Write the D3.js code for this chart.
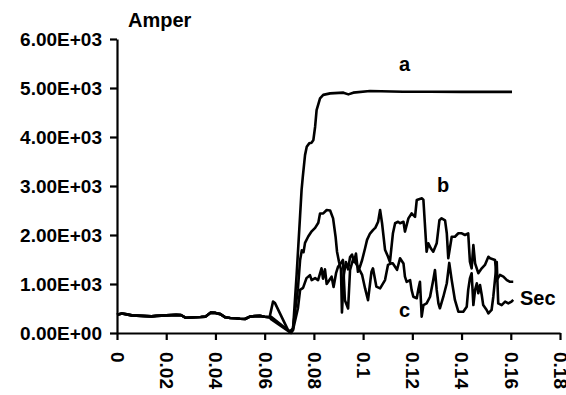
<!DOCTYPE html>
<html>
<head>
<meta charset="utf-8">
<script src="https://cdn.jsdelivr.net/npm/d3@7"></script>
<style>
  html, body { margin: 0; padding: 0; background: #fff; }
  #container { width: 566px; height: 395px; }
  text { font-family: "Liberation Sans", Arial, sans-serif; font-weight: bold; fill: #000; }
</style>
</head>
<body>
<div id="container"></div>
<script>
'use strict';
(function() {
    // tick values
    var yTicks = [0, 1000, 2000, 3000, 4000, 5000, 6000];
    var xTicks = [0, 0.02, 0.04, 0.06, 0.08, 0.1, 0.12, 0.14, 0.16, 0.18];

    // shared start of the three curves (sec, amper)
    var baseTime = [0, 0.002, 0.004, 0.006, 0.008, 0.010, 0.012, 0.014, 0.016, 0.018, 0.020, 0.022,
        0.024, 0.026, 0.028, 0.030, 0.032, 0.034, 0.036, 0.038, 0.040, 0.042, 0.044, 0.046,
        0.048, 0.050, 0.052, 0.054, 0.056, 0.058, 0.060, 0.062];
    var baseAmp = [370, 400, 380, 360, 355, 350, 345, 340, 350, 355, 360, 365,
        370, 365, 310, 315, 320, 325, 335, 415, 410, 385, 320, 305,
        300, 290, 285, 335, 345, 350, 330, 320];

    // curve a
    var aTime = [0.0626, 0.0699, 0.0715, 0.073, 0.0744, 0.075, 0.0755, 0.0764, 0.0771, 0.0781,
        0.0791, 0.0798, 0.0805, 0.0811, 0.0825, 0.0838, 0.0866, 0.092, 0.094, 0.096,
        0.1028, 0.1162, 0.127, 0.14, 0.1605];
    var aAmp = [330, 40, 60, 1200, 2400, 2920, 3190, 3630, 3800, 3870,
        3885, 3940, 4210, 4550, 4790, 4860, 4890, 4905, 4870, 4905,
        4940, 4925, 4925, 4920, 4920];

    // curve b
    var bTime = [0.0634, 0.0642, 0.0695, 0.0703, 0.0715, 0.0735, 0.0744, 0.0751, 0.0758, 0.0764,
        0.0777, 0.0791, 0.0805, 0.0818, 0.0825, 0.0838, 0.0852, 0.0866, 0.0878, 0.0888,
        0.0894, 0.0902, 0.0910, 0.0914, 0.0922, 0.0930, 0.0939, 0.0947, 0.0955, 0.0963,
        0.0971, 0.0979, 0.0987, 0.0996, 0.1008, 0.1016, 0.1028, 0.1040, 0.1050, 0.1061,
        0.1069, 0.1077, 0.1089, 0.1101, 0.1109, 0.1121, 0.1130, 0.1142, 0.1150, 0.1164,
        0.1170, 0.1184, 0.1197, 0.1211, 0.1218, 0.1239, 0.1245, 0.1258, 0.1265, 0.1275,
        0.1285, 0.1299, 0.1310, 0.1319, 0.1333, 0.1340, 0.1346, 0.1360, 0.1373, 0.1387,
        0.1401, 0.1414, 0.1427, 0.1434, 0.1441, 0.1448, 0.1455, 0.1468, 0.1482, 0.1495,
        0.1509, 0.1516, 0.1536, 0.1543, 0.1556, 0.1570, 0.1584, 0.1597, 0.1610];
    var bAmp = [640, 610, 60, 20, 100, 900, 1490, 1690, 1650, 1840,
        1970, 2075, 2145, 2250, 2440, 2440, 2510, 2500, 2340, 1970,
        1660, 1455, 1300, 420, 1200, 1450, 1300, 1550, 1600, 1450,
        1620, 1250, 1350, 1490, 1730, 1900, 2030, 2100, 2150, 2270,
        2510, 2240, 1700, 1560, 1450, 2030, 2240, 2270, 2240, 2270,
        2070, 2340, 2440, 2370, 2715, 2750, 2715, 1660, 1830, 1730,
        1660, 1830, 2300, 2340, 2300, 2035, 1525, 1965, 1965, 2035,
        2035, 2000, 2035, 1455, 1320, 1795, 1420, 1220, 1320, 1390,
        1555, 1525, 1490, 1080, 1185, 1150, 1080, 1045, 1045];

    // curve c
    var cTime = [0.0626, 0.0707, 0.0715, 0.0735, 0.0744, 0.0756, 0.0770, 0.0784, 0.0791, 0.0805,
        0.0817, 0.0831, 0.0837, 0.0845, 0.0852, 0.0859, 0.0872, 0.0880, 0.0890, 0.0898,
        0.0906, 0.0918, 0.0926, 0.0939, 0.0947, 0.0959, 0.0971, 0.0979, 0.0996, 0.1008,
        0.1020, 0.1034, 0.1040, 0.1054, 0.1069, 0.1089, 0.1101, 0.1115, 0.1121, 0.1138,
        0.1150, 0.1164, 0.1170, 0.1177, 0.1191, 0.1197, 0.1204, 0.1218, 0.1224, 0.1231,
        0.1238, 0.1245, 0.1258, 0.1272, 0.1285, 0.1292, 0.1299, 0.1306, 0.1312, 0.1326,
        0.1340, 0.1350, 0.1360, 0.1373, 0.1387, 0.1407, 0.1421, 0.1427, 0.1434, 0.1441,
        0.1448, 0.1455, 0.1462, 0.1468, 0.1475, 0.1482, 0.1488, 0.1502, 0.1509, 0.1522,
        0.1529, 0.1543, 0.1549, 0.1563, 0.1577, 0.1590, 0.1603, 0.1610];
    var cAmp = [280, 0, 60, 500, 880, 920, 1120, 1180, 1080, 1120,
        1080, 1320, 1110, 1300, 1000, 1050, 1150, 940, 1220, 1350,
        1400, 1490, 670, 500, 1290, 1500, 1420, 1350, 1185, 910,
        670, 1250, 1320, 945, 910, 1080, 1390, 1420, 1420, 1290,
        1525, 1420, 1150, 1045, 1080, 880, 740, 710, 880, 1045,
        335, 570, 605, 740, 1080, 1285, 880, 605, 505, 740,
        1015, 1430, 1080, 675, 435, 435, 535, 880, 1115, 1220,
        570, 880, 1015, 810, 980, 775, 570, 470, 400, 470,
        740, 1450, 605, 570, 640, 605, 640, 675];

    var margin = {left: 117, right: 6, top: 39, bottom: 62};
    var W = 566, H = 395;

    var svg = d3.select('#container').append('svg')
        .attr('width', W)
        .attr('height', H);

    var x = d3.scaleLinear().domain([0, 0.18]).range([margin.left, W - margin.right]);
    var y = d3.scaleLinear().domain([0, 6000]).range([H - margin.bottom, margin.top]);

    function sci(d) {
        if (d === 0) return '0.00E+00';
        var e = Math.floor(Math.log10(d));
        return (d / Math.pow(10, e)).toFixed(2) + 'E+' + (e < 10 ? '0' : '') + e;
    }

    // join the common start onto each curve
    function series(t, v) {
        var pts = baseTime.map(function(d, i) { return [d, baseAmp[i]]; });
        return pts.concat(t.map(function(d, i) { return [d, v[i]]; }));
    }

    var line = d3.line()
        .x(function(d) { return x(d[0]); })
        .y(function(d) { return y(d[1]); });

    [series(cTime, cAmp), series(bTime, bAmp), series(aTime, aAmp)].forEach(function(s) {
        svg.append('path')
            .datum(s)
            .attr('d', line)
            .attr('fill', 'none')
            .attr('stroke', '#000')
            .attr('stroke-width', 2.6)
            .attr('stroke-linejoin', 'round');
    });

    // y axis
    var gy = svg.append('g')
        .attr('transform', 'translate(' + margin.left + ',0)')
        .call(d3.axisLeft(y).tickValues(yTicks).tickFormat(sci).tickSize(7).tickSizeOuter(0));
    gy.select('.domain').attr('stroke-width', 2.2);
    gy.selectAll('.tick line').attr('stroke-width', 2.2);
    gy.selectAll('.tick text')
        .attr('x', -15)
        .style('font-size', '19px')
        .style('font-family', '"Liberation Sans", Arial, sans-serif')
        .style('font-weight', 'bold');

    // x axis, labels turned to read downwards
    var gx = svg.append('g')
        .attr('transform', 'translate(0,' + y(0) + ')')
        .call(d3.axisBottom(x).tickValues(xTicks).tickFormat(function(d) { return String(+d.toFixed(2)); })
            .tickSize(7).tickSizeOuter(0));
    gx.select('.domain').attr('stroke-width', 2.2);
    gx.selectAll('.tick line').attr('stroke-width', 2.2);
    gx.selectAll('.tick text')
        .attr('y', 0)
        .attr('dy', '0.35em')
        .attr('transform', 'translate(0,19) rotate(90)')
        .attr('text-anchor', 'start')
        .style('font-size', '19px')
        .style('font-family', '"Liberation Sans", Arial, sans-serif')
        .style('font-weight', 'bold');

    // titles and curve names
    svg.append('text').attr('x', 128).attr('y', 27).style('font-size', '20px').text('Amper');
    svg.append('text').attr('x', 520).attr('y', 305).style('font-size', '20px').text('Sec');
    svg.append('text').attr('x', 399).attr('y', 71).style('font-size', '20px').text('a');
    svg.append('text').attr('x', 437).attr('y', 192).style('font-size', '20px').text('b');
    svg.append('text').attr('x', 399).attr('y', 317).style('font-size', '20px').text('c');
})();
</script>
</body>
</html>
